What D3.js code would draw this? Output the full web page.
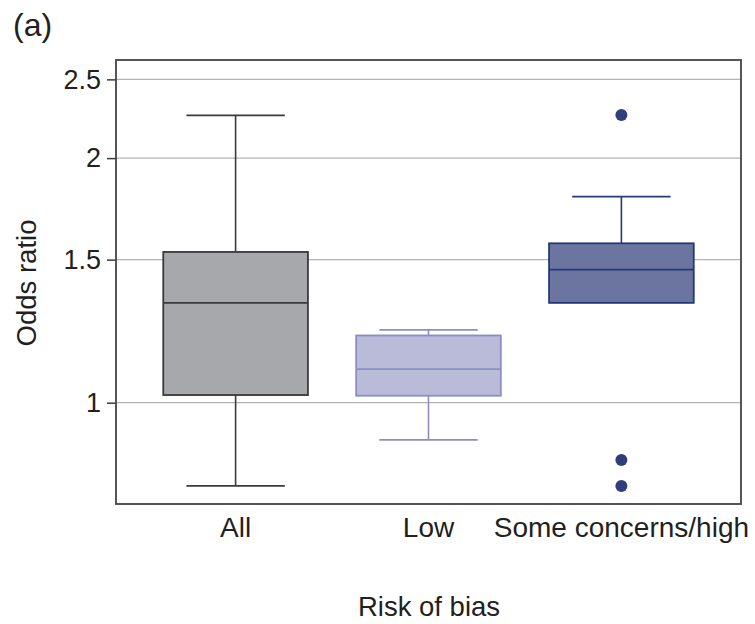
<!DOCTYPE html>
<html>
<head>
<meta charset="utf-8">
<script src="https://cdn.jsdelivr.net/npm/d3@7"></script>
<style>
  body { margin: 0; background: #fff; }
  svg text { font-family: "Liberation Sans", Arial, sans-serif; fill: #231f20; }
</style>
</head>
<body>
<svg id="chart" width="755" height="624"></svg>
<script>
// Box summaries (odds ratio, log axis)
const categories = ["All", "Low", "Some concerns/high"];
const whiskerLow  = [0.79, 0.90, 1.327];
const q1          = [1.022, 1.02, 1.327];
const median      = [1.327, 1.10, 1.458];
const q3          = [1.533, 1.21, 1.571];
const whiskerHigh = [2.258, 1.229, 1.793];
const outliers    = [[], [], [2.26, 0.85, 0.79]];
const yTicks      = [1, 1.5, 2, 2.5];

const fills   = ["#a7a8ab", "#b9bbd9", "#6c74a0"];
const strokes = ["#3a3a3c", "#8a8fbf", "#233a76"];

const svg = d3.select("#chart");
const margin = { top: 60, right: 14, bottom: 120, left: 116 };
const W = 755, H = 624;
const x0 = margin.left, x1 = W - margin.right;
const y0 = margin.top, y1 = H - margin.bottom;

const y = d3.scaleLog().domain([0.7505, 2.641]).range([y1, y0]);
const x = d3.scalePoint().domain(categories).range([x0, x1]).padding(0.62);
const step = x.step();
const boxW = step * 0.75;
const capW = step * 0.51;

// gridlines
svg.append("g")
  .selectAll("line")
  .data(yTicks)
  .join("line")
  .attr("x1", x0).attr("x2", x1)
  .attr("y1", (d) => y(d)).attr("y2", (d) => y(d))
  .attr("stroke", "#b4b4b4")
  .attr("stroke-width", 1.3);

// y axis ticks + labels
const yAxis = d3.axisLeft(y)
  .tickValues(yTicks)
  .tickFormat((d) => String(d))
  .tickSize(9)
  .tickPadding(6);
const ga = svg.append("g").attr("transform", `translate(${x0},0)`).call(yAxis);
ga.select(".domain").remove();
ga.selectAll(".tick line").attr("stroke", "#3a3a3c").attr("stroke-width", 1.5);
ga.selectAll(".tick text")
  .attr("font-size", 27)
  .attr("font-family", "Liberation Sans, Arial, sans-serif")
  .attr("fill", "#231f20");

// boxes
const data = categories.map((c, i) => ({
  c, i, lo: whiskerLow[i], q1: q1[i], med: median[i], q3: q3[i], hi: whiskerHigh[i],
}));

const g = svg.append("g");
const box = g.selectAll("g.box").data(data).join("g").attr("class", "box");

// whiskers
box.append("line")
  .attr("x1", (d) => x(d.c)).attr("x2", (d) => x(d.c))
  .attr("y1", (d) => y(d.q3)).attr("y2", (d) => y(d.hi))
  .attr("stroke", (d) => strokes[d.i]).attr("stroke-width", 1.6);
box.filter((d) => d.lo < d.q1).append("line")
  .attr("x1", (d) => x(d.c)).attr("x2", (d) => x(d.c))
  .attr("y1", (d) => y(d.q1)).attr("y2", (d) => y(d.lo))
  .attr("stroke", (d) => strokes[d.i]).attr("stroke-width", 1.6);
box.append("line")
  .attr("x1", (d) => x(d.c) - capW / 2).attr("x2", (d) => x(d.c) + capW / 2)
  .attr("y1", (d) => y(d.hi)).attr("y2", (d) => y(d.hi))
  .attr("stroke", (d) => strokes[d.i]).attr("stroke-width", 1.8);
box.filter((d) => d.lo < d.q1).append("line")
  .attr("x1", (d) => x(d.c) - capW / 2).attr("x2", (d) => x(d.c) + capW / 2)
  .attr("y1", (d) => y(d.lo)).attr("y2", (d) => y(d.lo))
  .attr("stroke", (d) => strokes[d.i]).attr("stroke-width", 1.8);

box.append("rect")
  .attr("x", (d) => x(d.c) - boxW / 2)
  .attr("width", boxW)
  .attr("y", (d) => y(d.q3))
  .attr("height", (d) => y(d.q1) - y(d.q3))
  .attr("fill", (d) => fills[d.i])
  .attr("stroke", (d) => strokes[d.i])
  .attr("stroke-width", 1.8);

box.append("line")
  .attr("x1", (d) => x(d.c) - boxW / 2).attr("x2", (d) => x(d.c) + boxW / 2)
  .attr("y1", (d) => y(d.med)).attr("y2", (d) => y(d.med))
  .attr("stroke", (d) => strokes[d.i]).attr("stroke-width", 1.8);

// outliers
const pts = categories.flatMap((c, i) => outliers[i].map((v) => ({ c, v })));
g.selectAll("circle")
  .data(pts)
  .join("circle")
  .attr("cx", (d) => x(d.c))
  .attr("cy", (d) => y(d.v))
  .attr("r", 6)
  .attr("fill", "#2f3f7c");

// frame
svg.append("rect")
  .attr("x", x0).attr("y", y0)
  .attr("width", x1 - x0).attr("height", y1 - y0)
  .attr("fill", "none")
  .attr("stroke", "#444446")
  .attr("stroke-width", 1.8);

// x category labels
svg.append("g")
  .selectAll("text")
  .data(categories)
  .join("text")
  .attr("x", (d) => x(d))
  .attr("y", 537)
  .attr("text-anchor", "middle")
  .attr("font-size", 28)
  .text((d) => d);

// axis titles
svg.append("text")
  .attr("x", 429).attr("y", 616)
  .attr("text-anchor", "middle")
  .attr("font-size", 27.5)
  .text("Risk of bias");

svg.append("text")
  .attr("transform", "translate(36,283) rotate(-90)")
  .attr("text-anchor", "middle")
  .attr("font-size", 27.5)
  .text("Odds ratio");

svg.append("text")
  .attr("x", 13).attr("y", 36)
  .attr("font-size", 32)
  .text("(a)");
</script>
</body>
</html>
